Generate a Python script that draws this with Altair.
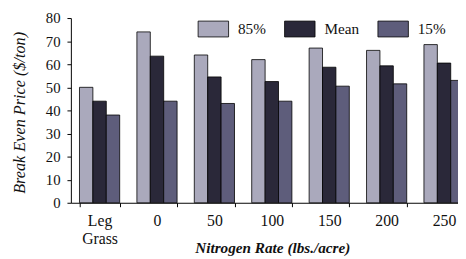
import altair as alt
import pandas as pd

categories = ["Leg Grass", "0", "50", "100", "150", "200", "250"]
series = ["85%", "Mean", "15%"]
p85 = [50, 74, 64, 62, 67, 66, 68.5]
mean = [44, 63.5, 54.5, 52.5, 58.7, 59.3, 60.5]
p15 = [38, 44, 43, 44, 50.5, 51.5, 53]
colors = ["#aaa9bc", "#2a2839", "#5e5d7b"]

rows = []
for i, c in enumerate(categories):
    for s, vals in zip(series, [p85, mean, p15]):
        rows.append({"rate": c, "level": s, "price": vals[i]})
df = pd.DataFrame(rows)

FONT = "'Liberation Serif', 'Times New Roman', 'DejaVu Serif', serif"

chart = alt.Chart(df).mark_bar(stroke="black", strokeWidth=0.8).encode(
    x=alt.X(
        "rate:N",
        sort=categories,
        scale=alt.Scale(paddingInner=0.3, paddingOuter=0.15),
        axis=alt.Axis(
            title="Nitrogen Rate (lbs./acre)",
            labelAngle=0,
            labelExpr="split(datum.label, ' ')",
            labelLineHeight=18,
            labelFontSize=16,
            labelPadding=6,
            tickBand="extent",
            tickSize=4,
            titleX=205,
            titleY=46,
            titleBaseline="middle",
            titleAnchor="middle",
            titleAlign="center",
            titleFontStyle="italic",
            titleFontWeight="bold",
            titleFontSize=15.5,
        ),
    ),
    xOffset=alt.XOffset("level:N", sort=series, scale=alt.Scale(paddingInner=0, paddingOuter=0)),
    y=alt.Y(
        "price:Q",
        scale=alt.Scale(domain=[0, 80]),
        axis=alt.Axis(
            title="Break Even Price ($/ton)",
            values=[0, 10, 20, 30, 40, 50, 60, 70, 80],
            grid=False,
            tickSize=4,
            labelFontSize=15,
            labelPadding=7,
            titleAngle=-90,
            titleX=-52,
            titleY=96,
            titleBaseline="middle",
            titleAlign="center",
            titleFontStyle="italic",
            titleFontWeight="normal",
            titleFontSize=16.5,
        ),
    ),
    color=alt.Color(
        "level:N",
        sort=series,
        scale=alt.Scale(domain=series, range=colors),
        legend=alt.Legend(
            title=None,
            orient="none",
            legendX=129,
            legendY=-5,
            direction="horizontal",
            symbolType="M-1,-0.52H1V0.52H-1Z",
            symbolSize=961,
            symbolStrokeColor="black",
            symbolStrokeWidth=0.8,
            labelFontSize=15.5,
            labelOffset=9,
            columnPadding=16,
            padding=0,
        ),
    ),
).properties(
    width=409,
    height=188,
    autosize=alt.AutoSizeParams(type="none"),
    padding={"left": 64, "top": 8, "right": -15, "bottom": 55},
).configure(
    font=FONT,
).configure_axis(
    labelFont=FONT,
    titleFont=FONT,
    labelColor="#111",
    titleColor="#111",
    domainColor="black",
    tickColor="black",
).configure_legend(
    labelFont=FONT,
    labelColor="#111",
).configure_view(
    strokeWidth=0,
)

chart.save("out.html", embed_options={"renderer": "svg", "actions": False})
